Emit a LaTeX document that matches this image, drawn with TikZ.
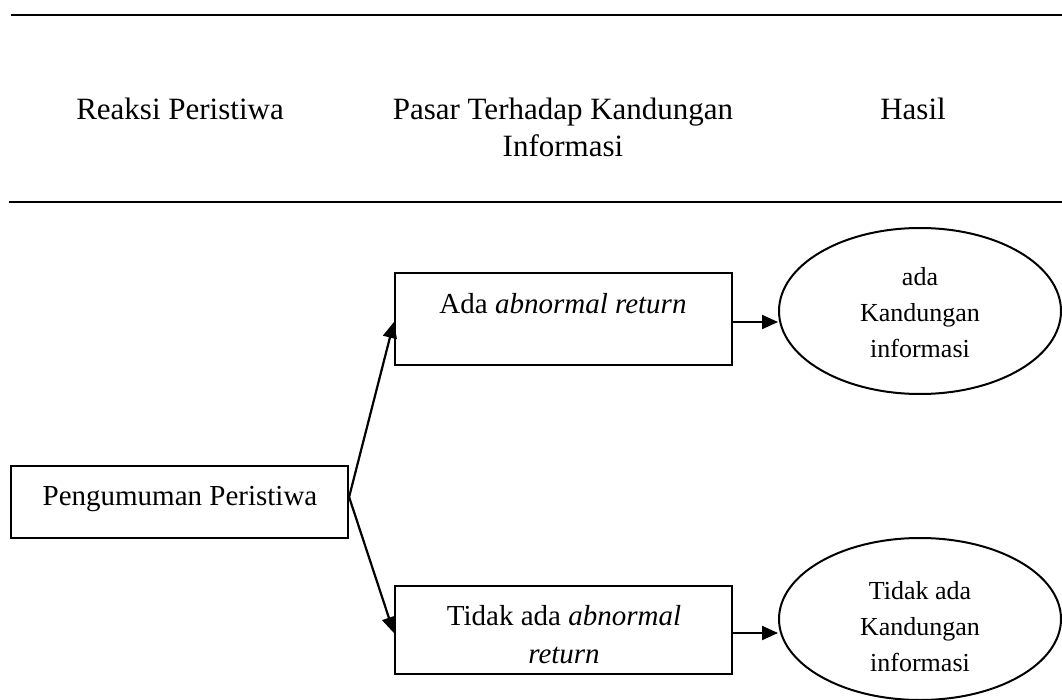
\documentclass[tikz,border=0pt]{standalone}
\usepackage{fontspec}
\setmainfont{Liberation Serif}
\usetikzlibrary{arrows.meta,shapes.geometric}
\newcommand{\mlines}[1]{\begin{tabular}[t]{@{}c@{}}#1\end{tabular}}
\begin{document}
\begin{tikzpicture}[x=1pt,y=-1pt,
  hdr/.style={font=\fontsize{31}{37}\selectfont, anchor=base, inner sep=0pt},
  boxtxt/.style={font=\fontsize{29}{38}\selectfont, anchor=base, inner sep=0pt},
  elltxt/.style={font=\fontsize{26}{36}\selectfont, anchor=base, inner sep=0pt},
  stepbox/.style={draw, line width=2.2pt, rectangle, minimum width=337pt, inner sep=0pt},
  outcome/.style={draw, line width=2pt, ellipse, minimum width=282pt, inner sep=0pt},
  conn/.style={line width=2.2pt, -{Triangle[length=16pt,width=14pt]}},
  rulel/.style={line width=2.4pt}]

\useasboundingbox (0,0) rectangle (1062,700);

% header rules
\coordinate (r1a) at (11,15);  \coordinate (r1b) at (1062,15);
\coordinate (r2a) at (9,202);  \coordinate (r2b) at (1062,202);
\draw[rulel] (r1a) -- (r1b);
\draw[rulel] (r2a) -- (r2b);

% header texts
\node[hdr] (h1) at (180,120) {Reaksi Peristiwa};
\node[hdr] (h2) at (563,120) {\mlines{Pasar Terhadap Kandungan\\Informasi}};
\node[hdr] (h3) at (913,120) {Hasil};

% boxes
\node[stepbox, minimum height=72pt] (p)  at (179.5,502) {};
\node[stepbox, minimum height=92pt] (b1) at (563.5,319) {};
\node[stepbox, minimum height=88pt] (b2) at (563.5,630) {};

\node[boxtxt] (pt)  at (180,505) {Pengumuman Peristiwa};
\node[boxtxt] (b1t) at (563,314) {Ada \textit{abnormal return}};
\node[boxtxt] (b2t) at (564,625) {\mlines{Tidak ada \textit{abnormal}\\\textit{return}}};

% ellipses
\node[outcome, minimum height=166pt] (e1) at (920,311) {};
\node[outcome, minimum height=162pt] (e2) at (920,619) {};

\node[elltxt] (e1t) at (920,286) {\mlines{ada\\Kandungan\\informasi}};
\node[elltxt] (e2t) at (920,599) {\mlines{Tidak ada\\Kandungan\\informasi}};

% connectors
\draw[conn] ([yshift=5pt]p.east) -- ([yshift=-3pt]b1.west);
\draw[conn] ([yshift=5pt]p.east) -- ([yshift=-3pt]b2.west);
\draw[conn] ([yshift=-3pt]b1.east) -- ([yshift=-3pt]b1.east -| e1.west);
\draw[conn] ([yshift=-3pt]b2.east) -- ([yshift=-3pt]b2.east -| e2.west);
\end{tikzpicture}
\end{document}
